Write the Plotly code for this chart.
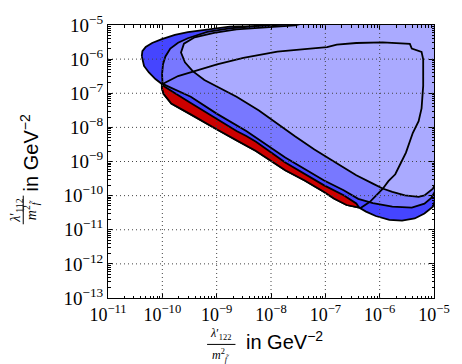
import numpy as np
import plotly.graph_objects as go

# ---------------- data (log10 of the coupling ratios, GeV^-2) ----------------
# outermost dark-blue region
A_lx = [-10.378, -10.367, -10.306, -10.188, -10.009, -9.769, -9.530, -9.172, -8.760, -8.276,
        -7.738, -7.201, -4.692, -4.871, -4.978, -5.020, -5.176, -5.355, -5.588, -5.821,
        -6.072, -6.251, -6.376, -6.609, -6.842, -7.022, -7.380, -7.738, -8.276, -8.634,
        -8.993, -9.477, -9.835, -9.978, -10.009, -10.009, -10.127, -10.247, -10.337]
A_ly = [-5.912, -5.768, -5.642, -5.527, -5.412, -5.288, -5.210, -5.144, -5.049, -5.029,
        -4.986, -4.856, -4.856, -9.748, -10.122, -10.324, -10.525, -10.669, -10.735, -10.712,
        -10.597, -10.468, -10.353, -10.275, -10.085, -9.892, -9.555, -9.259, -8.692, -8.381,
        -8.065, -7.619, -7.302, -7.014, -6.842, -6.727, -6.583, -6.390, -6.200]

# red strip
R_lx = [-9.996, -9.943, -9.477, -8.993, -8.634, -8.455, -8.276, -7.738, -7.380, -7.022,
        -6.663, -6.430, -6.376, -6.609, -6.842, -7.022, -7.380, -7.738, -8.276, -8.634,
        -8.993, -9.477, -9.835, -9.978, -10.009]
R_ly = [-6.755, -6.827, -7.288, -7.763, -8.108, -8.252, -8.424, -9.029, -9.365, -9.699,
        -9.987, -10.229, -10.353, -10.275, -10.085, -9.892, -9.555, -9.259, -8.692, -8.381,
        -8.065, -7.619, -7.302, -7.014, -6.842]

# medium-blue region
B_lx = [-9.996, -10.005, -9.987, -9.943, -9.853, -9.710, -9.530, -9.172, -8.760, -8.276,
        -7.738, -7.201, -4.692, -4.871, -4.978, -5.050, -5.176, -5.409, -5.767, -6.125,
        -6.394, -6.663, -7.022, -7.380, -7.738, -8.455, -8.993, -9.477]
B_ly = [-6.727, -6.439, -6.151, -5.921, -5.691, -5.518, -5.388, -5.201, -5.101, -5.029,
        -4.986, -4.856, -4.856, -9.547, -9.863, -10.065, -10.237, -10.353, -10.324, -10.223,
        -10.094, -9.843, -9.555, -9.222, -8.885, -8.108, -7.604, -7.101]

# light-blue region
C_lx = [-7.201, -4.692, -4.692, -4.978, -5.020, -5.104, -5.176, -5.283, -5.409, -5.534,
        -5.767, -5.946, -6.125, -6.305, -6.430, -6.663, -7.022, -7.201, -7.559, -7.918,
        -8.222, -8.634, -8.993, -9.226, -9.441, -9.584, -9.656, -9.602, -9.405, -9.047,
        -8.634, -8.097, -7.559]
C_ly = [-4.856, -4.856, -9.317, -9.662, -9.797, -9.892, -9.993, -10.036, -10.022, -9.993,
        -9.892, -9.791, -9.647, -9.489, -9.403, -9.173, -8.836, -8.646, -8.260, -7.849,
        -7.504, -7.101, -6.813, -6.612, -6.353, -6.094, -5.806, -5.547, -5.360, -5.230,
        -5.129, -5.072, -5.014]

# triangular contour (outline only)
D_lx = [-9.996, -9.710, -9.405, -8.993, -8.509, -7.882, -7.380, -6.968, -6.789, -6.430,
        -5.946, -5.642, -5.444, -5.409, -5.229, -5.199, -5.199, -5.229, -5.283, -5.391,
        -5.516, -5.606, -5.713, -5.839, -5.946, -6.090, -6.179, -6.358]
D_ly = [-6.727, -6.496, -6.353, -6.151, -5.964, -5.777, -5.705, -5.647, -5.576, -5.527,
        -5.509, -5.527, -5.555, -5.691, -5.786, -6.007, -6.784, -7.446, -7.820, -8.165,
        -8.741, -9.029, -9.374, -9.576, -9.806, -10.036, -10.180, -10.367]

x_exps = [-11, -10, -9, -8, -7, -6, -5]
y_exps = [-13, -12, -11, -10, -9, -8, -7, -6, -5]
x_ticktext = ["10<sup>\u2212%d</sup>" % (-e) for e in x_exps]
y_ticktext = ["10<sup>\u2212%d</sup>" % (-e) for e in y_exps]

# ---------------- figure ----------------
fig = go.Figure()

def region(lx, ly, color, closed=True):
    x = 10.0 ** np.array(lx)
    y = 10.0 ** np.array(ly)
    if closed:
        x = np.append(x, x[0]); y = np.append(y, y[0])
        fig.add_trace(go.Scatter(x=x, y=y, mode="lines", fill="toself", fillcolor=color,
                                 line=dict(color="black", width=1.8),
                                 hoverinfo="skip", showlegend=False))
    else:
        fig.add_trace(go.Scatter(x=x, y=y, mode="lines",
                                 line=dict(color="black", width=1.8),
                                 hoverinfo="skip", showlegend=False))

region(A_lx, A_ly, "#4545ff")
region(R_lx, R_ly, "#cc0000")
region(B_lx, B_ly, "#7878ff")
region(C_lx, C_ly, "#aaaaff")
region(D_lx, D_ly, None, closed=False)

common = dict(type="log", ticks="inside", ticklen=5, tickwidth=1, tickcolor="black",
              showline=True, linecolor="black", linewidth=1, mirror="ticks",
              showgrid=False, zeroline=False, layer="above traces",
              tickmode="array",
              minor=dict(ticks="inside", ticklen=2.5, tickcolor="black", showgrid=False, dtick="D1"))
fig.update_xaxes(range=[-11, -5], tickvals=[10.0 ** e for e in x_exps], ticktext=x_ticktext,
                 tickfont=dict(family="Liberation Serif", size=18, color="black"), **common)
fig.update_yaxes(range=[-13, -5], tickvals=[10.0 ** e for e in y_exps], ticktext=y_ticktext,
                 tickfont=dict(family="Liberation Serif", size=19, color="black"), **common)

shapes = []
grid = dict(color="#444444", width=1, dash="1px,3px")
for e in x_exps[1:-1]:
    shapes.append(dict(type="line", xref="x", yref="paper", x0=10.0 ** e, x1=10.0 ** e,
                       y0=0, y1=1, line=grid, layer="above"))
for e in y_exps[1:-1]:
    shapes.append(dict(type="line", xref="paper", yref="y", x0=0, x1=1,
                       y0=10.0 ** e, y1=10.0 ** e, line=grid, layer="above"))
# fraction bars of the axis titles
shapes.append(dict(type="line", xref="paper", yref="paper", x0=0.304, x1=0.391,
                   y0=-0.170, y1=-0.170, line=dict(color="black", width=1)))
shapes.append(dict(type="line", xref="paper", yref="paper", x0=-0.260, x1=-0.260,
                   y0=0.270, y1=0.375, line=dict(color="black", width=1)))

serif = dict(family="Liberation Serif", size=14, color="black")
small = dict(family="Liberation Serif", size=12, color="black")
sans = dict(family="Liberation Sans", size=20, color="black")
ann = [
    dict(text="<i>\u03bb</i>\u2032<sub>122</sub>", x=0.346, y=-0.168, font=small,
         textangle=0, yanchor="bottom"),
    dict(text="<i>m</i><sup>2</sup><sub><i>f\u0303</i></sub>", x=0.346, y=-0.173, font=small,
         textangle=0, yanchor="top"),
    dict(text="in GeV<sup>\u22122</sup>", x=0.418, y=-0.157, font=sans, xanchor="left", textangle=0),
    dict(text="<i>\u03bb</i>\u2032<sub>112</sub>", x=-0.283, y=0.322, font=serif, textangle=-90),
    dict(text="<i>m</i><sup>2</sup><sub><i>f\u0303</i></sub>", x=-0.236, y=0.322, font=serif, textangle=-90),
    dict(text="in GeV<sup>\u22122</sup>", x=-0.242, y=0.53, font=sans, textangle=-90),
]
for a in ann:
    a.update(xref="paper", yref="paper", showarrow=False)
    a.setdefault("xanchor", "center")
    a.setdefault("yanchor", "middle")

fig.update_layout(width=462, height=364, margin=dict(l=108, r=19, t=20, b=66),
                  paper_bgcolor="white", plot_bgcolor="white",
                  shapes=shapes, annotations=ann, showlegend=False)

fig.write_html("out.html")
